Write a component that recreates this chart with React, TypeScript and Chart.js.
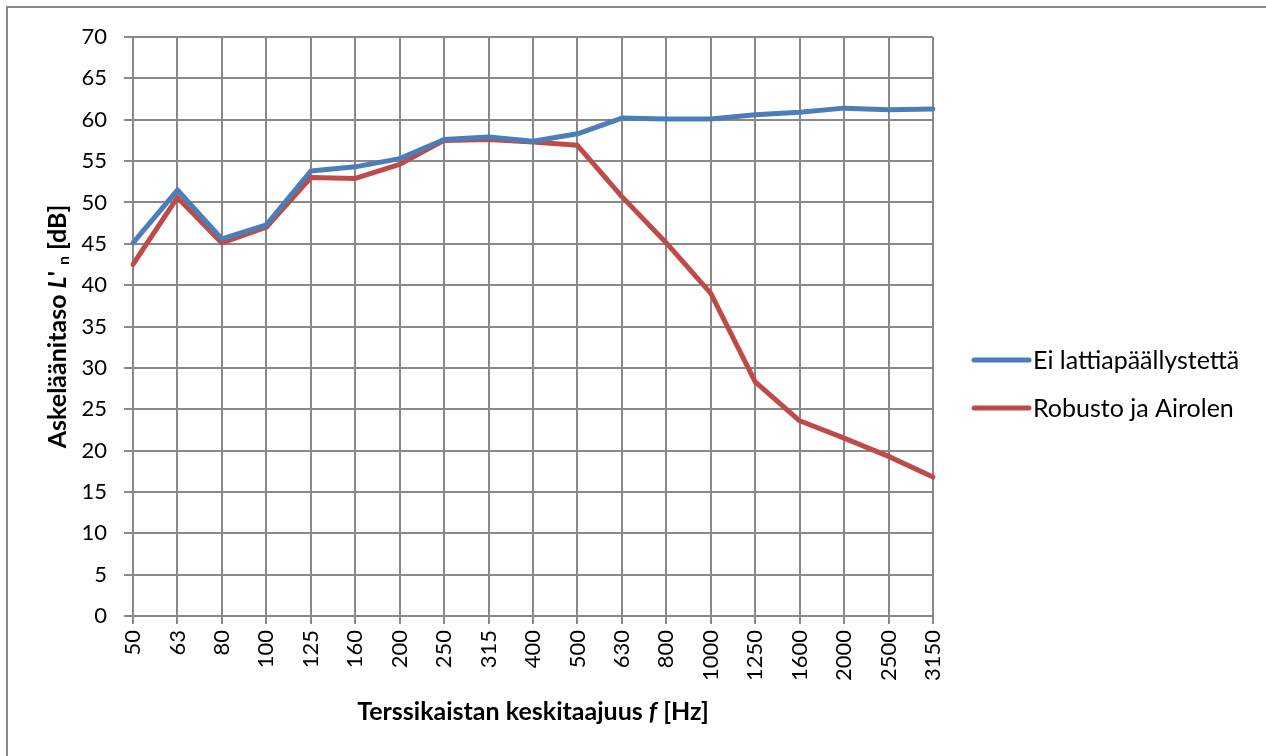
import React, { useEffect, useRef } from "react";
import { Chart, registerables } from "chart.js";

Chart.register(...registerables);

const frequencies = ["50", "63", "80", "100", "125", "160", "200", "250", "315", "400", "500", "630", "800", "1000", "1250", "1600", "2000", "2500", "3150"];
const eiLattia = [45.1, 51.5, 45.6, 47.3, 53.8, 54.3, 55.3, 57.6, 57.9, 57.4, 58.3, 60.2, 60.1, 60.1, 60.6, 60.9, 61.4, 61.2, 61.3];
const robusto = [42.5, 50.6, 45.1, 47.0, 53.0, 52.9, 54.6, 57.5, 57.6, 57.3, 56.9, 50.7, 45.1, 39.0, 28.3, 23.6, 21.5, 19.3, 16.8];
const seriesNames = ["Ei lattiapäällystettä", "Robusto ja Airolen"];
const seriesColors = ["#4A7EBB", "#BE4B48"];
const yTicks = [0, 70, 5];

const FONT = "Lato, 'Open Sans', sans-serif";
const GRID = "#898989";

const decor = {
  id: "decor",
  beforeDraw(chart: any) {
    const ctx = chart.ctx;
    ctx.save();
    ctx.fillStyle = "#ffffff";
    ctx.fillRect(0, 0, chart.width, chart.height);
    ctx.strokeStyle = GRID;
    ctx.lineWidth = 2;
    ctx.strokeRect(7, 7, chart.width + 20, chart.height + 20);
    ctx.restore();
  },
  afterDraw(chart: any) {
    const ctx = chart.ctx;
    const area = chart.chartArea;
    ctx.save();
    // legend
    const legendY = [360, 408];
    ctx.font = `25px ${FONT}`;
    ctx.textBaseline = "middle";
    ctx.textAlign = "left";
    seriesNames.forEach((name, i) => {
      ctx.strokeStyle = seriesColors[i];
      ctx.lineWidth = 5;
      ctx.lineCap = "round";
      ctx.beginPath();
      ctx.moveTo(974, legendY[i]);
      ctx.lineTo(1029, legendY[i]);
      ctx.stroke();
      ctx.fillStyle = "#000000";
      ctx.fillText(name, 1033, legendY[i] + 1);
    });

    // x axis title
    const cx = (area.left + area.right) / 2;
    const xParts = [
      { t: "Terssikaistan keskitaajuus ", f: `bold 25px ${FONT}` },
      { t: "f", f: `italic bold 25px ${FONT}` },
      { t: " [Hz]", f: `bold 25px ${FONT}` },
    ];
    let total = 0;
    xParts.forEach((p) => { ctx.font = p.f; total += ctx.measureText(p.t).width; });
    let x = cx - total / 2;
    ctx.fillStyle = "#000000";
    ctx.textBaseline = "middle";
    xParts.forEach((p) => { ctx.font = p.f; ctx.fillText(p.t, x, 712); x += ctx.measureText(p.t).width; });

    // y axis title
    const cy = (area.top + area.bottom) / 2;
    const yParts = [
      { t: "Askeläänitaso ", f: `bold 25px ${FONT}`, dy: 0 },
      { t: "L", f: `italic bold 25px ${FONT}`, dy: 0 },
      { t: "' ", f: `bold 25px ${FONT}`, dy: 0 },
      { t: "n", f: `bold 16px ${FONT}`, dy: 6 },
      { t: " [dB]", f: `bold 25px ${FONT}`, dy: 0 },
    ];
    total = 0;
    yParts.forEach((p) => { ctx.font = p.f; total += ctx.measureText(p.t).width; });
    ctx.translate(58, cy);
    ctx.rotate(-Math.PI / 2);
    let px = -total / 2;
    yParts.forEach((p) => { ctx.font = p.f; ctx.fillText(p.t, px, p.dy); px += ctx.measureText(p.t).width; });
    ctx.restore();
  },
};

export default function App() {
  const ref = useRef<HTMLCanvasElement | null>(null);
  useEffect(() => {
    if (!ref.current) return;
    const chart = new Chart(ref.current, {
      type: "line",
      data: {
        labels: frequencies,
        datasets: [
          { label: seriesNames[0], data: eiLattia, borderColor: seriesColors[0], backgroundColor: seriesColors[0], borderWidth: 5, pointRadius: 0, tension: 0, borderJoinStyle: "round", borderCapStyle: "round" },
          { label: seriesNames[1], data: robusto, borderColor: seriesColors[1], backgroundColor: seriesColors[1], borderWidth: 5, pointRadius: 0, tension: 0, borderJoinStyle: "round", borderCapStyle: "round" },
        ],
      },
      options: {
        animation: false,
        responsive: false,
        maintainAspectRatio: false,
        layout: { padding: { left: 0, top: 37, right: 333, bottom: 0 } },
        plugins: { legend: { display: false }, tooltip: { enabled: false }, title: { display: false } },
        scales: {
          x: {
            offset: false,
            grid: { color: GRID, lineWidth: 2, tickLength: 8, drawTicks: true },
            border: { color: GRID, width: 2 },
            ticks: { color: "#000000", font: { family: FONT, size: 22 }, maxRotation: 90, minRotation: 90, padding: 6, autoSkip: false },
            afterFit: (s: any) => { s.height = 140; },
          },
          y: {
            min: yTicks[0],
            max: yTicks[1],
            grid: { color: GRID, lineWidth: 2, tickLength: 9, drawTicks: true },
            border: { color: GRID, width: 2 },
            ticks: { stepSize: yTicks[2], color: "#000000", font: { family: FONT, size: 22 }, padding: 17 },
            afterFit: (s: any) => { s.width = 133; },
          },
        },
      },
      plugins: [decor],
    });
    return () => chart.destroy();
  }, []);
  return (
    <div style={{ position: "fixed", left: 0, top: 0, width: 1266, height: 756, overflow: "hidden" }}>
      <canvas ref={ref} width={1266} height={756} style={{ display: "block" }} />
    </div>
  );
}
